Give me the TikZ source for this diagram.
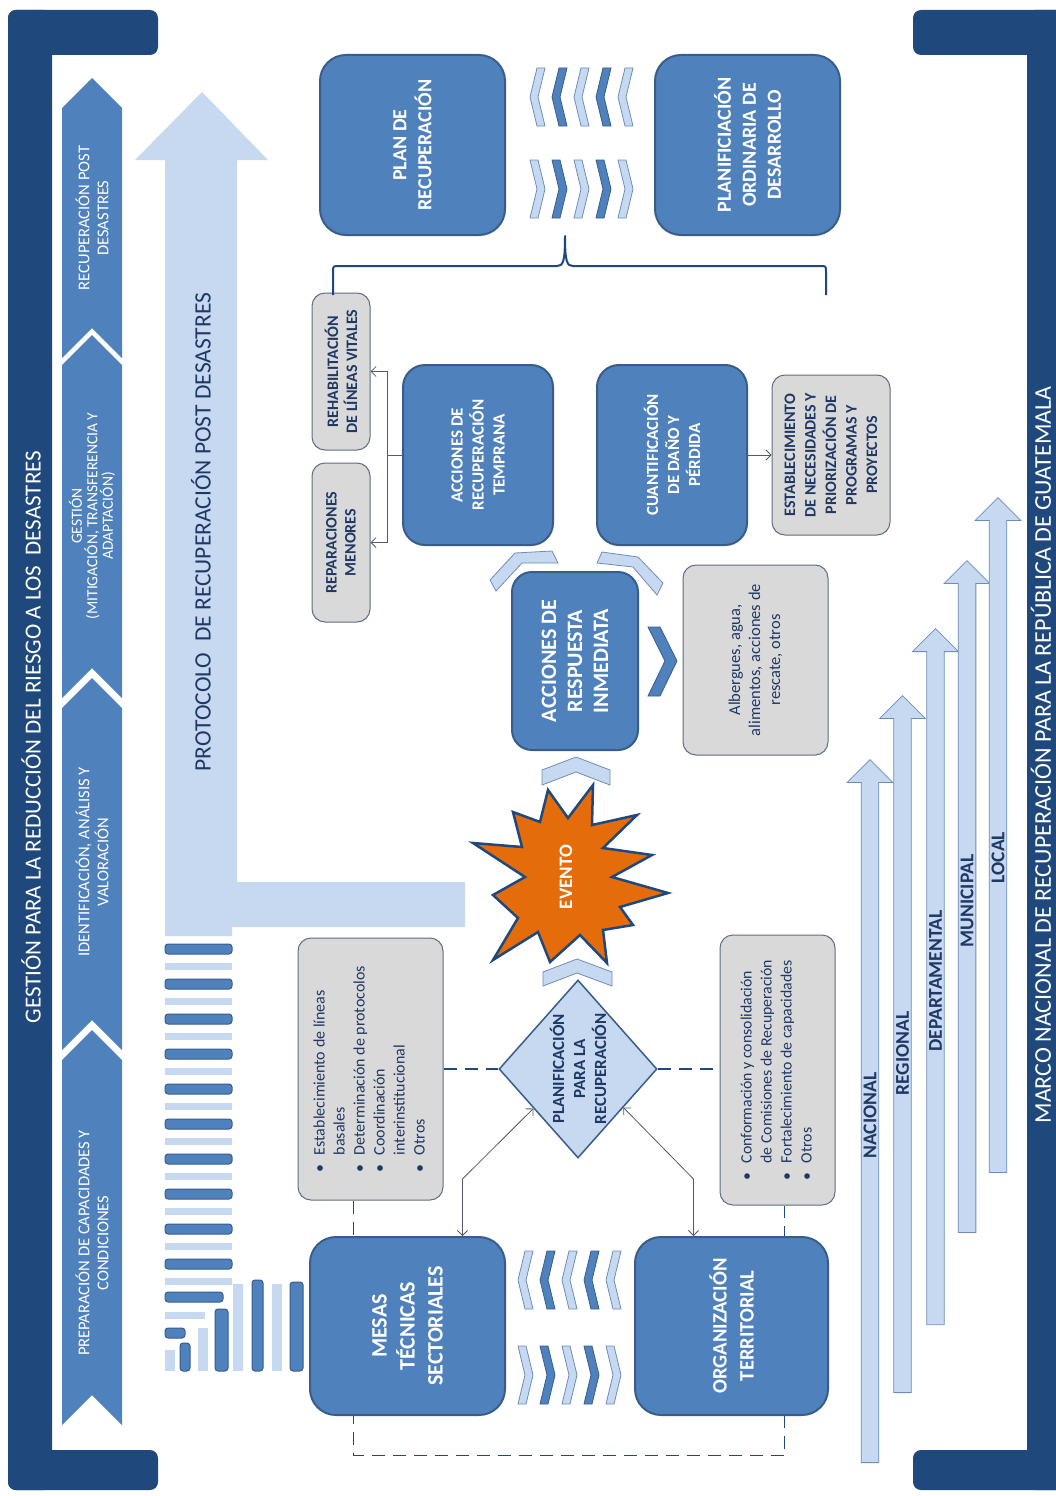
\documentclass[tikz,border=0pt]{standalone}
\usepackage{fontspec}
\setmainfont{Carlito}
\usetikzlibrary{arrows.meta,shapes.geometric,shapes.arrows,calc}
\definecolor{navy}{RGB}{31,73,125}
\definecolor{midblue}{RGB}{79,129,189}
\definecolor{boxedge}{RGB}{56,93,138}
\definecolor{lightblue}{RGB}{198,217,241}
\definecolor{lightedge}{RGB}{110,140,185}
\definecolor{grayfill}{RGB}{217,217,217}
\definecolor{grayedge}{RGB}{95,108,130}
\definecolor{evorange}{RGB}{228,108,10}
\definecolor{textnavy}{RGB}{31,56,100}
\definecolor{connector}{RGB}{85,90,100}
\newcommand{\chevleftshape}[3]{\filldraw[#3] (#1,#2) -- ++(7,-29) -- ++(8,0) -- ++(-7,29) -- ++(7,29) -- ++(-8,0) -- cycle;}
\newcommand{\chevrightshape}[3]{\filldraw[#3] (#1+15,#2) -- ++(-7,-29) -- ++(-8,0) -- ++(7,29) -- ++(-7,29) -- ++(8,0) -- cycle;}
\begin{document}
\begin{tikzpicture}[x=1pt,y=-1pt,
  bluebox/.style={draw=boxedge, line width=2pt, fill=midblue, rounded corners=26pt, rotate=90, text=white, align=center, inner sep=2pt},
  graybox/.style={draw=grayedge, line width=1pt, fill=grayfill, rounded corners=13pt, rotate=90, text=textnavy, align=center, inner sep=2pt},
  rottext/.style={rotate=90, align=center, inner sep=0pt},
  levelarrow/.style={single arrow, draw=lightedge, fill=lightblue, line width=0.8pt, rotate=90, minimum width=46pt, single arrow head extend=11pt, inner sep=0pt, text=textnavy, font=\fontsize{19.5}{19.5}\selectfont\bfseries},
  lightchev/.style={fill=lightblue, draw=lightedge, line width=0.8pt},
  darkchev/.style={fill=midblue, draw=boxedge, line width=0.8pt},
  darkbar/.style={fill=midblue, draw=boxedge, line width=1pt, rounded corners=3pt},
  dashline/.style={draw=navy, line width=1.6pt, dash pattern=on 13pt off 8pt},
  thinline/.style={draw=connector, line width=0.8pt},
  thinarrow/.style={thinline, -{Straight Barb[length=5pt,width=10pt]}},
  bothway/.style={thinline, {Straight Barb[length=5pt,width=10pt]}-{Straight Barb[length=5pt,width=10pt]}},
]
\useasboundingbox (0,0) rectangle (1055,1496);
\fill[white] (0,0) rectangle (1055,1496);

% frames
\fill[navy, rounded corners=8pt] (8,10) rectangle (52,1490);
\fill[navy, rounded corners=8pt] (8,10) rectangle (158,55);
\fill[navy, rounded corners=8pt] (8,1450) rectangle (158,1490);
\fill[navy, rounded corners=8pt] (1027,10) rectangle (1070,1490);
\fill[navy, rounded corners=8pt] (913,10) rectangle (1070,55);
\fill[navy, rounded corners=8pt] (913,1450) rectangle (1070,1490);
\node[rottext, text=white, font=\fontsize{23}{27}\selectfont] (ltitle) at (31,737) {GESTIÓN PARA LA REDUCCIÓN DEL RIESGO A LOS\ \ DESASTRES};
\node[rottext, text=white, font=\fontsize{24}{28}\selectfont] (rtitle) at (1041,755) {MARCO NACIONAL DE RECUPERACIÓN PARA LA REPÚBLICA DE GUATEMALA};

% chevron strip
\foreach \t/\b in {78/358, 335/698, 678/1050, 1030/1425}
  \fill[midblue] (62,\t+30) -- (92,\t) -- (122,\t+30) -- (122,\b) -- (92,\b-30) -- (62,\b) -- cycle;
\node[rottext, text=white, font=\fontsize{16.5}{19}\selectfont] (ch1) at (92,218) {RECUPERACIÓN POST\\DESASTRES};
\node[rottext, text=white, font=\fontsize{15.5}{15.5}\selectfont] (ch2) at (92,516) {GESTIÓN\\(MITIGACIÓN, TRANSFERENCIA Y\\ADAPTACIÓN)};
\node[rottext, text=white, font=\fontsize{16.5}{19}\selectfont] (ch3) at (92,862) {IDENTIFICACIÓN, ANÁLISIS Y\\VALORACIÓN};
\node[rottext, text=white, font=\fontsize{16.5}{19}\selectfont] (ch4) at (92,1243) {PREPARACIÓN DE CAPACIDADES Y\\CONDICIONES};

% big L arrow
\fill[lightblue] (165,936) -- (165,160) -- (135,160) -- (202,92) -- (268,160) -- (237,160) -- (237,882) -- (465,882) -- (465,927) -- (232,927) -- (232,936) -- cycle;
\node[rottext, text=textnavy, font=\fontsize{23.5}{27}\selectfont] (protocolo) at (201,532) {PROTOCOLO\ \ DE RECUPERACIÓN POST DESASTRES};

% stripes
\foreach \k in {0,...,9} {
  \draw[darkbar] (165,944+35*\k) rectangle (232,954+35*\k);
  \fill[lightblue] (165,963+35*\k) rectangle (232,970+35*\k);
}
\draw[darkbar] (165,1292) rectangle (223,1302);
\fill[lightblue] (165,1312) rectangle (205,1319);
\draw[darkbar] (165,1328) rectangle (185,1338);
\fill[lightblue] (165,1350) rectangle (175,1371);
\draw[darkbar] (180,1343) rectangle (190,1371);
\fill[lightblue] (198,1328) rectangle (208,1371);
\draw[darkbar] (215,1309) rectangle (228,1371);
\fill[lightblue] (233,1284) rectangle (243,1371);
\draw[darkbar] (252,1280) rectangle (263,1371);
\fill[lightblue] (272,1284) rectangle (282,1371);
\draw[darkbar] (290,1282) rectangle (303,1371);

% gray boxes with bullets
\node[graybox, minimum width=262pt, minimum height=145pt, font=\fontsize{16}{20}\selectfont] (bl) at (370.5,1069)
 {\begin{tabular}{@{}l@{\hspace{9pt}}l@{}}\textbullet & Establecimiento de líneas\\ & basales\\ \textbullet & Determinación de protocolos\\ \textbullet & Coordinación\\ & interinstitucional\\ \textbullet & Otros\end{tabular}};
\node[graybox, minimum width=270pt, minimum height=115pt, font=\fontsize{15.8}{20}\selectfont] (br) at (777.5,1070)
 {\begin{tabular}{@{}l@{\hspace{9pt}}l@{}}\textbullet & Conformación y consolidación\\ & de Comisiones de Recuperación\\ \textbullet & Fortalecimiento de capacidades\\ \textbullet & Otros\end{tabular}};

% diamond
\node[diamond, aspect=1.12, draw=boxedge, line width=1.5pt, fill=lightblue, rotate=90, minimum width=178pt, minimum height=158pt, inner sep=0pt, text=textnavy, align=center, font=\fontsize{17}{21}\selectfont\bfseries] (dia) at (578,1069) {PLANIFICACIÓN\\PARA LA\\RECUPERACIÓN};

% dashed connectors
\draw[dashline] (bl.south) -- (bl.south -| dia.north);
\draw[dashline] (dia.south) -- (dia.south -| br.north);
\draw[dashline] ($(bl.west)+(-17,0)$) -- ++(0,255) -| ($(br.west)+(7,0)$);

% blue boxes
\node[bluebox, minimum width=180pt, minimum height=185pt, font=\fontsize{20}{25}\selectfont\bfseries] (plan) at (412.5,145) {PLAN DE\\RECUPERACIÓN};
\node[bluebox, minimum width=180pt, minimum height=185pt, font=\fontsize{20}{25}\selectfont\bfseries] (pod) at (747.5,145) {PLANIFICIACIÓN\\ORDINARIA DE\\DESARROLLO};
\node[bluebox, rounded corners=22pt, minimum width=180pt, minimum height=150pt, font=\fontsize{17}{21}\selectfont\bfseries] (art) at (478,455) {ACCIONES DE\\RECUPERACIÓN\\TEMPRANA};
\node[bluebox, rounded corners=22pt, minimum width=180pt, minimum height=150pt, font=\fontsize{17}{21}\selectfont\bfseries] (cdp) at (672,455) {CUANTIFICACIÓN\\DE DAÑO Y\\PÉRDIDA};
\node[bluebox, rounded corners=20pt, minimum width=178pt, minimum height=126pt, font=\fontsize{22}{26}\selectfont\bfseries] (ari) at (575,661) {ACCIONES DE\\RESPUESTA\\INMEDIATA};
\node[bluebox, minimum width=178pt, minimum height=195pt, font=\fontsize{22}{28}\selectfont\bfseries] (mesas) at (407.5,1326) {MESAS\\TÉCNICAS\\SECTORIALES};
\node[bluebox, minimum width=178pt, minimum height=193pt, font=\fontsize{20.5}{27}\selectfont\bfseries] (org) at (731.5,1326) {ORGANIZACIÓN\\TERRITORIAL};

% gray boxes
\node[graybox, minimum width=157pt, minimum height=58pt, font=\fontsize{16}{19}\selectfont\bfseries] (rehab) at (341,371.5) {REHABILITACIÓN\\DE LÍNEAS VITALES};
\node[graybox, minimum width=159pt, minimum height=58pt, font=\fontsize{16}{19}\selectfont\bfseries] (repar) at (341,542.5) {REPARACIONES\\MENORES};
\node[graybox, minimum width=160pt, minimum height=118pt, font=\fontsize{16}{20.5}\selectfont\bfseries] (estab) at (831,455) {ESTABLECIMIENTO\\DE NECESIDADES Y\\PRIORIZACIÓN DE\\PROGRAMAS Y\\PROYECTOS};
\node[graybox, minimum width=190pt, minimum height=145pt, font=\fontsize{16.5}{20}\selectfont] (alb) at (755.5,660) {Albergues, agua,\\alimentos, acciones de\\rescate, otros};

% event star
\filldraw[fill=evorange, draw=navy, line width=2.5pt, line join=miter]
 (513,812) -- (540,822) -- (548,790) -- (568,818) -- (593,785) -- (592,825) -- (637,815) -- (603,848)
 -- (652,855) -- (612,877) -- (668,893) -- (620,907) -- (633,925) -- (603,930) -- (607,963) -- (580,935)
 -- (550,962) -- (538,932) -- (493,960) -- (518,918) -- (493,895) -- (525,877) -- (473,843) -- (522,847) -- cycle;
\node[rottext, text=white, font=\fontsize{19}{19}\selectfont\bfseries] (evento) at (566,877) {EVENTO};

% small chevrons
\filldraw[lightchev] (542,785) -- (542,770) -- (576,757) -- (610,770) -- (610,785) -- (576,772) -- cycle;
\filldraw[lightchev] (543,986) -- (543,972) -- (577,959) -- (612,972) -- (612,986) -- (577,973) -- cycle;
\filldraw[lightchev] (490,580) -- (515,553) -- (552,551) -- (558,563) -- (522,563) -- (496,591) -- cycle;
\filldraw[lightchev] (602,552) -- (638,557) -- (663,583) -- (657,595) -- (633,567) -- (597,563) -- cycle;
\filldraw[darkchev] (648,627) -- (660,627) -- (677,661) -- (660,696) -- (648,696) -- (665,661) -- cycle;

\chevleftshape{530}{97}{lightchev}\chevleftshape{552}{97}{darkchev}\chevleftshape{574}{97}{lightchev}\chevleftshape{596}{97}{darkchev}\chevleftshape{618}{97}{lightchev}
\chevrightshape{530}{189}{lightchev}\chevrightshape{552}{189}{darkchev}\chevrightshape{574}{189}{lightchev}\chevrightshape{596}{189}{darkchev}\chevrightshape{618}{189}{lightchev}
\chevleftshape{518}{1280}{lightchev}\chevleftshape{540}{1280}{darkchev}\chevleftshape{562}{1280}{lightchev}\chevleftshape{584}{1280}{darkchev}\chevleftshape{606}{1280}{lightchev}
\chevrightshape{518}{1375}{lightchev}\chevrightshape{540}{1375}{darkchev}\chevrightshape{562}{1375}{lightchev}\chevrightshape{584}{1375}{darkchev}\chevrightshape{606}{1375}{lightchev}

% brace
\draw[navy, line width=2pt, line join=round] (333,295) -- (333,272) .. controls (333,266) .. (339,266) -- (557,266) .. controls (563,266) and (565,262) .. (565,236) .. controls (565,262) and (567,266) .. (573,266) -- (820,266) .. controls (826,266) .. (826,272) -- (826,295);

% connectors
\draw[thinline] (art.north) -- ++(-15,0) coordinate (junc);
\draw[thinarrow] (junc) |- (rehab.south);
\draw[thinarrow] (junc) |- (repar.south);
\draw[thinarrow] (cdp.south) -- (estab.north);
\draw[bothway] ($(dia.north)!0.44!(dia.west)$) -- ($(mesas.east)+(55,-57)$) -- ($(mesas.east)+(55,0)$);
\draw[bothway] ($(dia.south)!0.43!(dia.west)$) -- ($(org.east)+(-38,-57)$) -- ($(org.east)+(-38,0)$);

% level arrows
\node[levelarrow, minimum height=703pt] (nac) at (870,1115.5) {NACIONAL};
\node[levelarrow, minimum height=697pt] (reg) at (902.5,1048.5) {REGIONAL\hspace*{10pt}};
\node[levelarrow, minimum height=696pt] (dep) at (935.5,981) {DEPARTAMENTAL};
\node[levelarrow, minimum height=672pt] (mun) at (967,901) {MUNICIPAL};
\node[levelarrow, minimum height=675pt] (loc) at (998,839.5) {LOCAL\hspace*{36pt}};
\end{tikzpicture}
\end{document}
